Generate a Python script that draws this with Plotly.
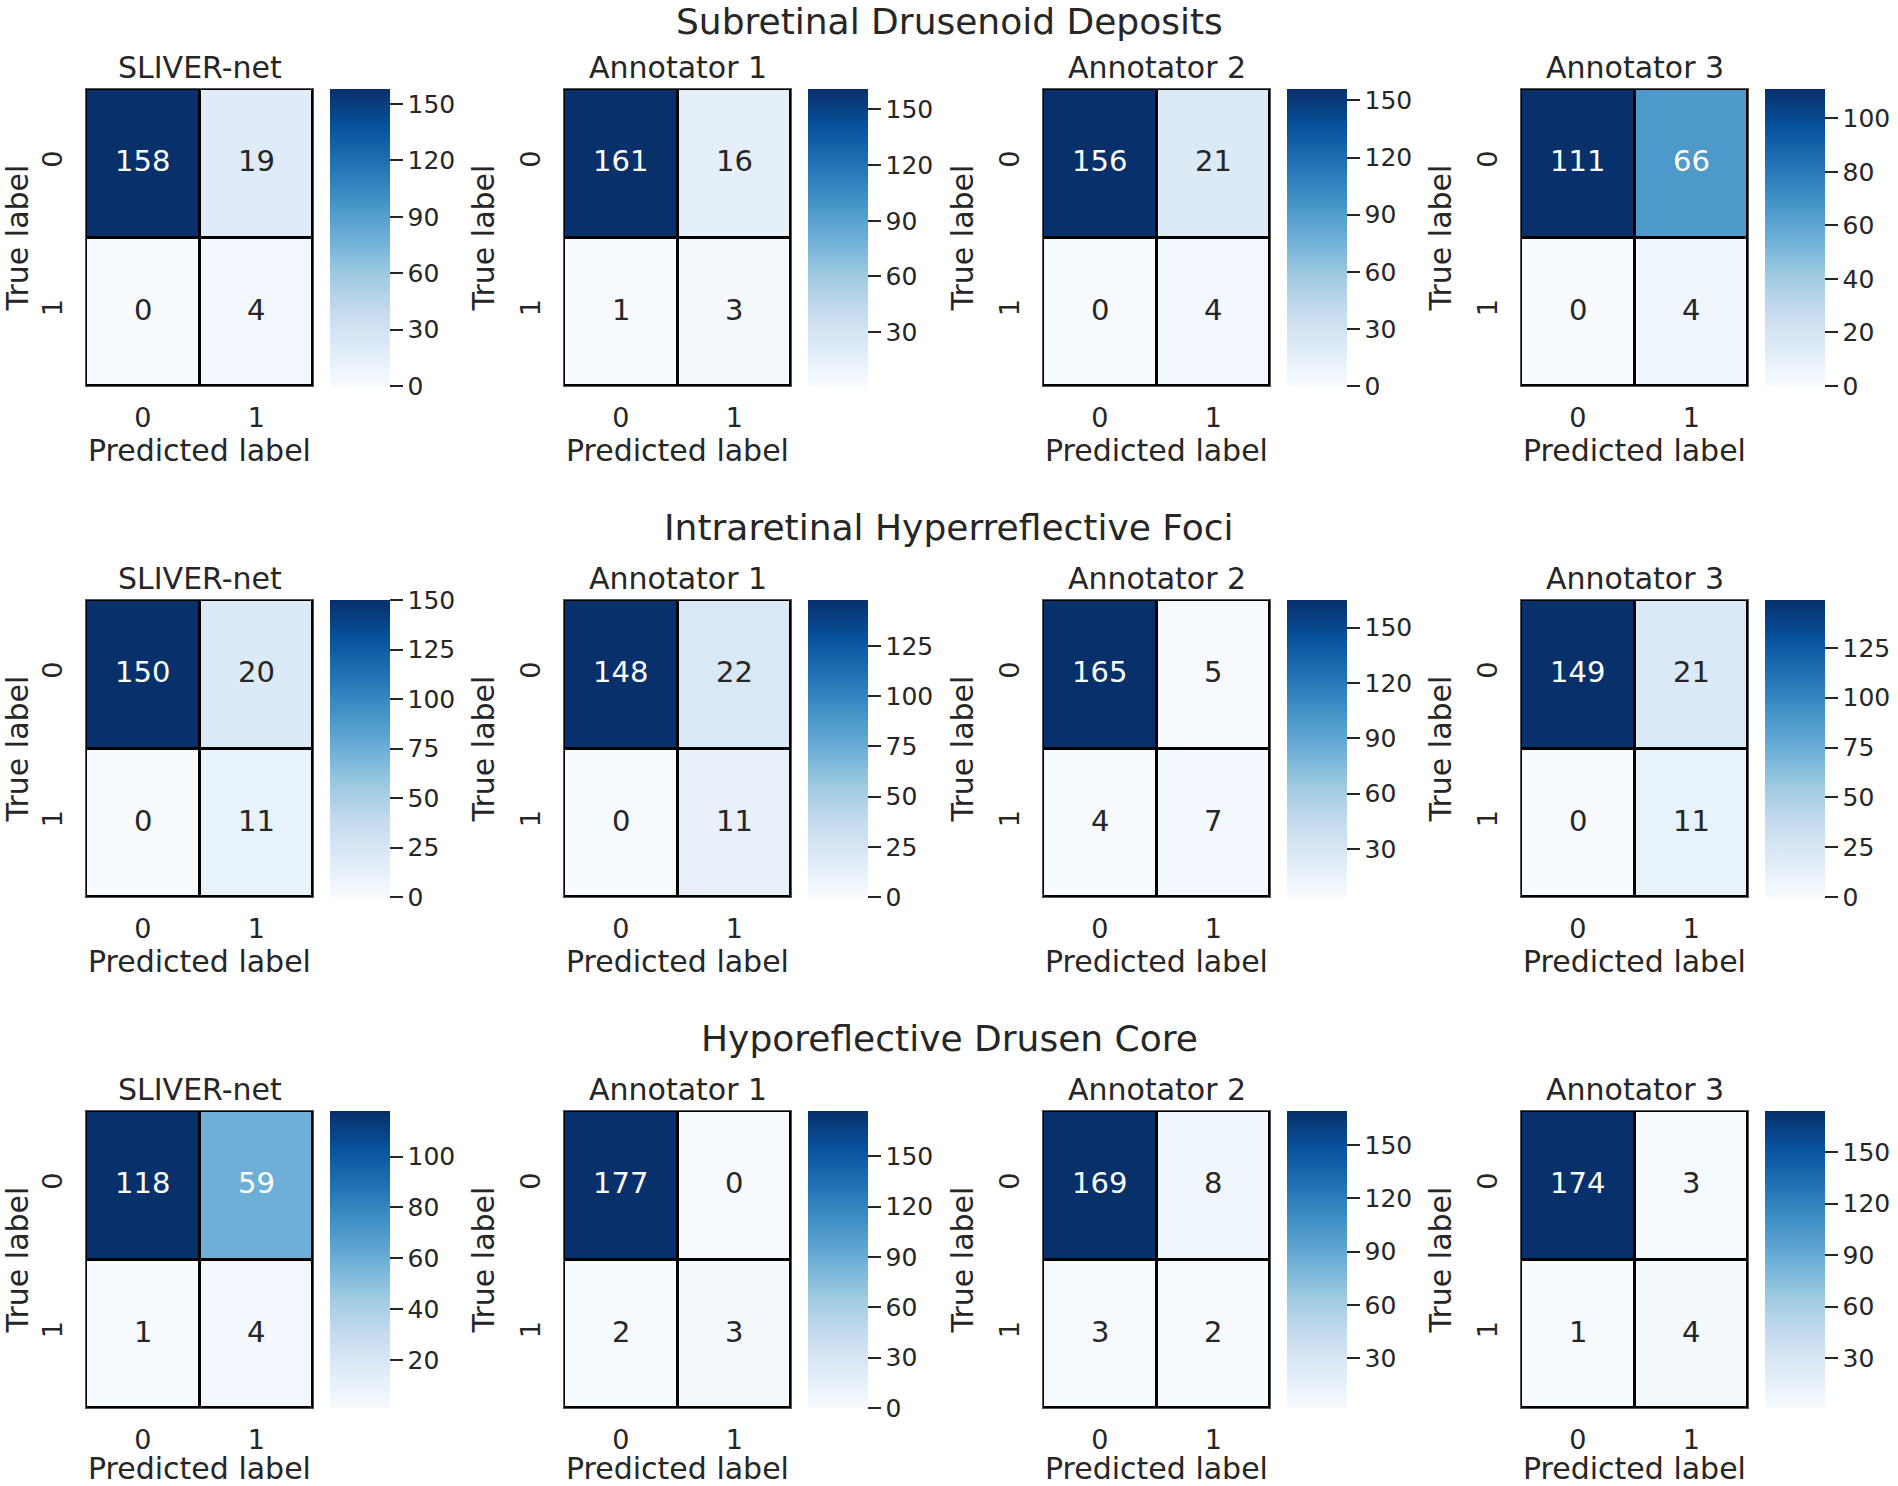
import plotly.graph_objects as go

# ---------------- data ----------------
row_titles = ["Subretinal Drusenoid Deposits",
              "Intraretinal Hyperreflective Foci",
              "Hyporeflective Drusen Core"]
col_titles = ["SLIVER-net", "Annotator 1", "Annotator 2", "Annotator 3"]
class_labels = ["0", "1"]

sdd_sliver = [[158, 19], [0, 4]]
sdd_ann1 = [[161, 16], [1, 3]]
sdd_ann2 = [[156, 21], [0, 4]]
sdd_ann3 = [[111, 66], [0, 4]]

ihf_sliver = [[150, 20], [0, 11]]
ihf_ann1 = [[148, 22], [0, 11]]
ihf_ann2 = [[165, 5], [4, 7]]
ihf_ann3 = [[149, 21], [0, 11]]

hdc_sliver = [[118, 59], [1, 4]]
hdc_ann1 = [[177, 0], [2, 3]]
hdc_ann2 = [[169, 8], [3, 2]]
hdc_ann3 = [[174, 3], [1, 4]]

matrices = [
    [sdd_sliver, sdd_ann1, sdd_ann2, sdd_ann3],
    [ihf_sliver, ihf_ann1, ihf_ann2, ihf_ann3],
    [hdc_sliver, hdc_ann1, hdc_ann2, hdc_ann3],
]

# colourbar tick spacing
cbar_dticks = [[30, 30, 30, 20],
               [25, 25, 30, 25],
               [20, 30, 30, 30]]

# ---------------- style / layout ----------------
W, H = 1898, 1486
FONT = "DejaVu Sans"
TXT = "#262626"
blues_hex = ["#f7fbff", "#deebf7", "#c6dbef", "#9ecae1", "#6baed6",
             "#4292c6", "#2171b5", "#08519c", "#08306b"]
colorscale = [[i / (len(blues_hex) - 1), c] for i, c in enumerate(blues_hex)]

col_left = [86, 564, 1043, 1521]
row_top = [89, 600, 1111]
hm_w, hm_h = 227, 297
cb_off, cb_w = 244, 60


def hex2rgb(h):
    h = h.lstrip("#")
    return [int(h[i:i + 2], 16) / 255 for i in (0, 2, 4)]


def cmap(t):
    t = min(max(t, 0.0), 1.0)
    n = len(blues_hex) - 1
    i = min(int(t * n), n - 1)
    f = t * n - i
    a, b = hex2rgb(blues_hex[i]), hex2rgb(blues_hex[i + 1])
    return [a[k] + (b[k] - a[k]) * f for k in range(3)]


def luminance(rgb):
    lin = [c / 12.92 if c <= 0.03928 else ((c + 0.055) / 1.055) ** 2.4 for c in rgb]
    return 0.2126 * lin[0] + 0.7152 * lin[1] + 0.0722 * lin[2]


fig = go.Figure()
annotations = []
layout_axes = {}

for r in range(3):
    for c in range(4):
        k = r * 4 + c + 1
        z = matrices[r][c]
        flat = [v for row in z for v in row]
        zmin, zmax = min(flat), max(flat)
        x0 = col_left[c]
        y0 = row_top[r]
        xs = "" if k == 1 else str(k)
        fig.add_trace(go.Heatmap(
            z=z, x=class_labels, y=class_labels,
            xaxis="x" + xs, yaxis="y" + xs,
            colorscale=colorscale, zmin=zmin, zmax=zmax,
            xgap=3, ygap=3, hoverinfo="z",
            colorbar=dict(
                x=(x0 + cb_off) / W, xanchor="left", xpad=0,
                y=1 - (y0 + hm_h / 2) / H, yanchor="middle", ypad=0,
                len=hm_h / H, lenmode="fraction",
                thickness=cb_w, thicknessmode="pixels",
                outlinewidth=0,
                ticks="outside", ticklen=13, tickwidth=2, tickcolor=TXT,
                tickmode="linear", tick0=0, dtick=cbar_dticks[r][c],
                tickfont=dict(family=FONT, size=25, color=TXT),
            ),
        ))
        layout_axes["xaxis" + xs] = dict(
            domain=[x0 / W, (x0 + hm_w) / W], anchor="y" + xs,
            type="category", showgrid=False, zeroline=False,
            showline=True, mirror=True, linecolor="#555555", linewidth=1,
            ticks="outside", ticklen=8, tickcolor="rgba(0,0,0,0)",
            tickfont=dict(family=FONT, size=27, color=TXT),
            title=dict(text="Predicted label", standoff=3,
                       font=dict(family=FONT, size=30, color=TXT)),
            fixedrange=True,
        )
        layout_axes["yaxis" + xs] = dict(
            domain=[1 - (y0 + hm_h) / H, 1 - y0 / H], anchor="x" + xs,
            type="category", autorange="reversed",
            showgrid=False, zeroline=False,
            showline=True, mirror=True, linecolor="#555555", linewidth=1,
            ticks="outside", ticklen=12, tickcolor="rgba(0,0,0,0)",
            tickangle=-90,
            tickfont=dict(family=FONT, size=27, color=TXT),
            title=dict(text="True label", standoff=11,
                       font=dict(family=FONT, size=30, color=TXT)),
            fixedrange=True,
        )
        # cell annotations
        for i, yl in enumerate(class_labels):
            for j, xl in enumerate(class_labels):
                v = z[i][j]
                t = (v - zmin) / (zmax - zmin) if zmax > zmin else 0
                col = TXT if luminance(cmap(t)) > 0.408 else "white"
                annotations.append(dict(
                    x=xl, y=yl, xref="x" + xs, yref="y" + xs,
                    text=str(v), showarrow=False, yshift=2,
                    font=dict(family=FONT, size=29, color=col),
                ))
        # subplot title
        annotations.append(dict(
            x=0.5, y=1, xref="x" + xs + " domain", yref="y" + xs + " domain",
            xanchor="center", yanchor="bottom", yshift=2,
            text=col_titles[c], showarrow=False,
            font=dict(family=FONT, size=30, color=TXT),
        ))
    # row title (box top kept inside the page)
    top_px = max(0, row_top[r] - 71 - 23)
    annotations.append(dict(
        x=0.5, y=1 - top_px / H, xref="paper", yref="paper",
        xanchor="center", yanchor="top", borderpad=0,
        text=row_titles[r], showarrow=False,
        font=dict(family=FONT, size=36, color=TXT),
    ))

fig.update_layout(
    width=W, height=H,
    margin=dict(l=0, r=0, t=0, b=0),
    paper_bgcolor="white", plot_bgcolor="black",
    font=dict(family=FONT, color=TXT),
    showlegend=False,
    annotations=annotations,
    **layout_axes,
)

fig.write_html(
    "out.html",
    config={"displayModeBar": False},
    post_script="document.body.style.margin='0px';document.body.style.overflow='hidden';",
)
